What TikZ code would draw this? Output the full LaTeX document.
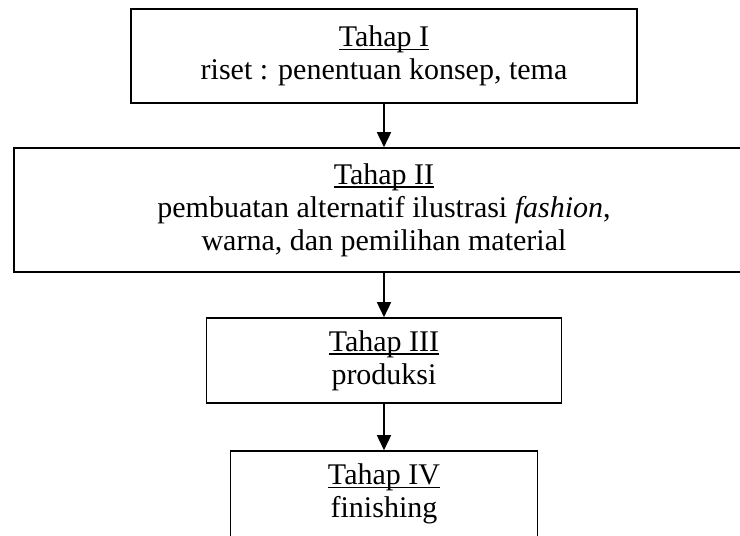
\documentclass[tikz,border=0pt]{standalone}
\usepackage{fontspec}
\setmainfont{Liberation Serif}
\usepackage{tikz}
\usetikzlibrary{
    arrows.meta,
    positioning
}
\newcommand{\garisjudul}[1]{\setbox0\hbox{#1}\rlap{\rule[-1.7pt]{\wd0}{0.7pt}}\box0}
\tikzset{
    tahapbox/.style={draw, line width=0.8pt, align=center, inner sep=0pt,
        font=\fontsize{15}{16.5}\selectfont},
    alur/.style={-{Triangle[length=7.5pt, width=7pt]}, line width=0.8pt}
}

\begin{document}
\begin{tikzpicture}[x=0.5pt, y=-0.5pt]
        \useasboundingbox (0, 0) rectangle (740, 536);
        \clip (0, 0) rectangle (740, 536);
        \node[tahapbox, minimum width=253pt, minimum height=47pt] (tahap1) at (384, 56)
            {\garisjudul{Tahap I}\\riset : penentuan konsep, tema};
        \node[tahapbox, minimum width=370pt, minimum height=62pt] (tahap2) at (384, 210)
            {\garisjudul{Tahap II}\\pembuatan alternatif ilustrasi \textit{fashion},\\warna, dan pemilihan material};
        \node[tahapbox, minimum width=177.5pt, minimum height=42.5pt] (tahap3) at (384, 360.5)
            {\garisjudul{Tahap III}\\produksi};
        \node[tahapbox, minimum width=153.5pt, minimum height=43pt] (tahap4) at (384, 494)
            {\garisjudul{Tahap IV}\\finishing};
        \draw[alur] (tahap1) -- (tahap2);
        \draw[alur] (tahap2) -- (tahap3);
        \draw[alur] (tahap3) -- (tahap4);
    \end{tikzpicture}
\end{document}
